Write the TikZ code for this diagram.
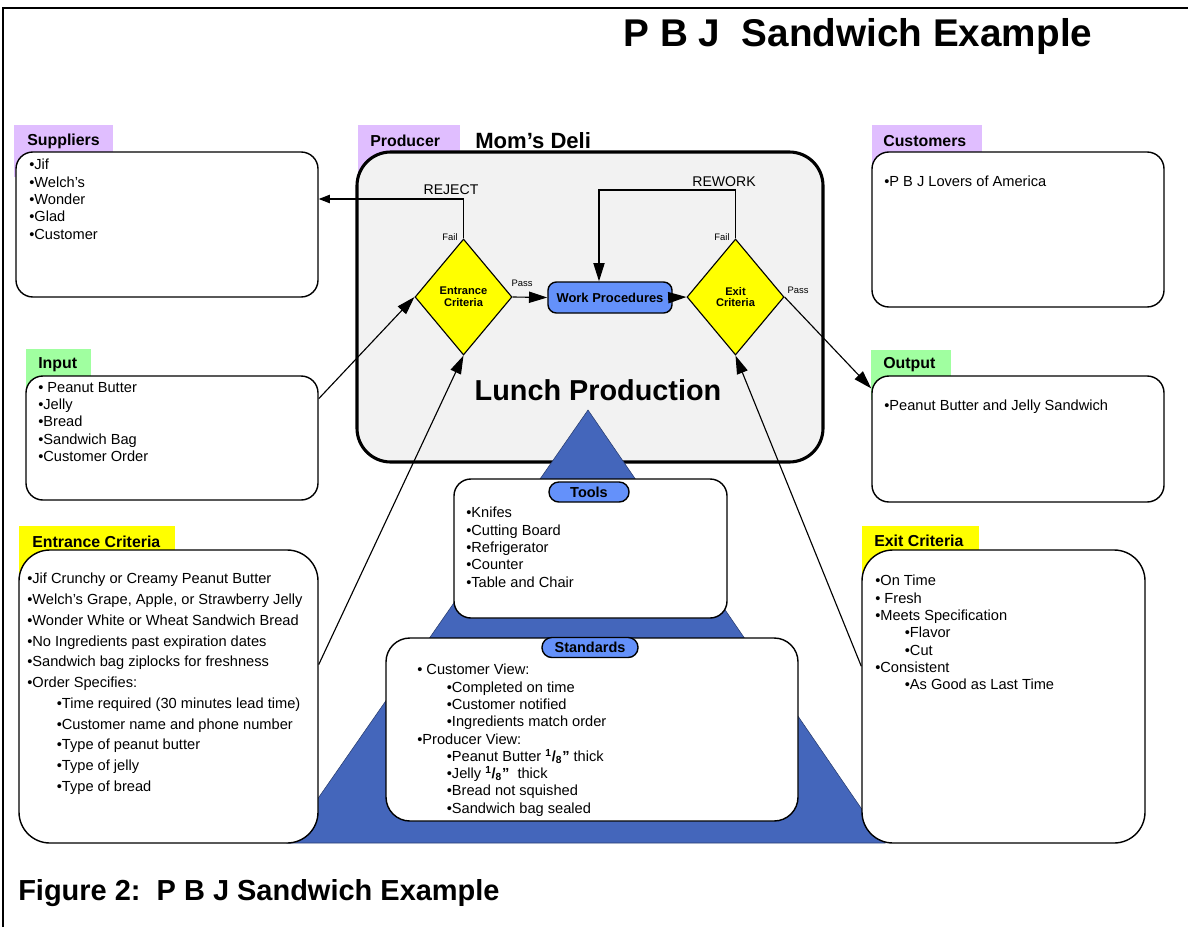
\documentclass[tikz,border=0pt]{standalone}
\usepackage{fontspec}
\setmainfont{Liberation Sans}
\usetikzlibrary{shapes.geometric,arrows.meta,fit}
\definecolor{tagpurple}{RGB}{224,190,255}
\definecolor{taggreen}{RGB}{160,255,160}
\definecolor{gateyellow}{RGB}{255,255,0}
\definecolor{deligray}{RGB}{242,242,242}
\definecolor{procblue}{RGB}{100,145,250}
\definecolor{toolblue}{RGB}{68,102,187}
\begin{document}
\begin{tikzpicture}[x=0.025cm,y=-0.025cm,
  box/.style={draw,fill=white,line width=1pt,inner sep=0pt,rounded corners=12pt},
  tagtext/.style={anchor=west,inner sep=0pt,font=\bfseries\fontsize{11.3}{13}\selectfont},
  list/.style={anchor=north west,align=left,inner sep=0pt,font=\fontsize{10.4}{12.3}\selectfont},
  gate/.style={diamond,draw,fill=gateyellow,line width=0.8pt,inner sep=0pt,
    minimum width=2.425cm,minimum height=2.9cm,align=center,font=\bfseries\fontsize{7.9}{8.4}\selectfont},
  pill/.style={draw,fill=procblue,line width=1pt,rounded corners=7pt,inner sep=0pt,
    font=\bfseries\fontsize{10.3}{12}\selectfont},
  flow/.style={line width=0.8pt,-{Triangle[length=13pt,width=8pt]}},
  small/.style={inner sep=0pt,font=\fontsize{6.7}{8}\selectfont},
  note/.style={inner sep=0pt,font=\fontsize{10}{12}\selectfont}]
\useasboundingbox (0,0) rectangle (1188,927);
\draw[line width=1.4pt] (3,927) -- (3,8) -- (1188,8);
\node[font=\bfseries\fontsize{27.5}{30}\selectfont] (title) at (858,37) {P B J\ \ Sandwich Example};

\fill[tagpurple] (14,125) rectangle (113,177);
\fill[taggreen] (26,349) rectangle (91,397);
\fill[gateyellow] (19,526) rectangle (175,577);
\fill[tagpurple] (358,125) rectangle (460,177);
\fill[tagpurple] (872,125) rectangle (982,165);
\fill[taggreen] (871,350) rectangle (951,400);
\fill[gateyellow] (862,526) rectangle (979,575);

\node[tagtext] (suptag) at (27,141) {Suppliers};
\node[tagtext] (intag) at (38,365) {Input};
\node[tagtext] (enttag) at (32,542) {Entrance Criteria};
\node[tagtext] (prodtag) at (370,141) {Producer};
\node[tagtext] (custtag) at (883,141) {Customers};
\node[tagtext] (outtag) at (883,365) {Output};
\node[tagtext] (extag) at (874,541) {Exit Criteria};
\node[anchor=west,inner sep=0pt,font=\bfseries\fontsize{15.7}{18}\selectfont] (deli) at (475,141) {Mom’s Deli};

\node[box,fit={(16,152) (318,297)}] (supbox) {};
\node[box,fit={(26,376) (318,500)}] (inbox) {};
\node[box,fit={(872,152) (1164,307)}] (custbox) {};
\node[box,fit={(872,376) (1164,502)}] (outbox) {};
\node[box,fill=deligray,line width=2.2pt,rounded corners=24pt,fit={(357,152) (823,462)}] (prod) {};

\filldraw[fill=toolblue,draw=toolblue!60!black,line width=0.4pt] (588,410) -- (287,843) -- (885,843) -- cycle;

\node[box,rounded corners=22pt,fit={(19,550) (318,843)}] (entbox) {};
\node[box,rounded corners=22pt,fit={(862,550) (1145,843)}] (exbox) {};
\node[box,fit={(454,479) (727,618)}] (toolbox) {};
\node[box,rounded corners=17pt,fit={(386,638) (798,821)}] (stdbox) {};
\node[pill,minimum width=2cm,minimum height=0.5cm] (tooltag) at (589,492) {Tools};
\node[pill,minimum width=2.4cm,minimum height=0.5cm] (stdtag) at (590,647.5) {Standards};

\node[list] (suplist) at (29,159) {•Jif\\•Welch’s\\•Wonder\\•Glad\\•Customer};
\node[list] (inlist) at (38,382) {• Peanut Butter\\•Jelly\\•Bread\\•Sandwich Bag\\•Customer Order};
\node[list,font=\fontsize{10.4}{14.75}\selectfont] (entlist) at (27,573) {•Jif Crunchy or Creamy Peanut Butter\\
  •Welch’s Grape, Apple, or Strawberry Jelly\\
  •Wonder White or Wheat Sandwich Bread\\
  •No Ingredients past expiration dates\\
  •Sandwich bag ziplocks for freshness\\
  •Order Specifies:\\
  \hspace*{21pt}•Time required (30 minutes lead time)\\
  \hspace*{21pt}•Customer name and phone number\\
  \hspace*{21pt}•Type of peanut butter\\
  \hspace*{21pt}•Type of jelly\\
  \hspace*{21pt}•Type of bread};
\node[list] (custlist) at (884,176) {•P B J Lovers of America};
\node[list] (outlist) at (884,400) {•Peanut Butter and Jelly Sandwich};
\node[list] (toollist) at (466,507) {•Knifes\\•Cutting Board\\•Refrigerator\\•Counter\\•Table and Chair};
\node[list] (stdlist) at (417,664) {• Customer View:\\
  \hspace*{21pt}•Completed on time\\
  \hspace*{21pt}•Customer notified\\
  \hspace*{21pt}•Ingredients match order\\
  •Producer View:\\
  \hspace*{21pt}•Peanut Butter {\bfseries\textsuperscript{1}/\textsubscript{8}”} thick\\
  \hspace*{21pt}•Jelly {\bfseries\textsuperscript{1}/\textsubscript{8}”}\ \ thick\\
  \hspace*{21pt}•Bread not squished\\
  \hspace*{21pt}•Sandwich bag sealed};
\node[list] (exlist) at (875,575) {•On Time\\• Fresh\\•Meets Specification\\
  \hspace*{21pt}•Flavor\\
  \hspace*{21pt}•Cut\\
  •Consistent\\
  \hspace*{21pt}•As Good as Last Time};

\node[font=\bfseries\fontsize{20.5}{24}\selectfont] (lunch) at (598,390) {Lunch Production};
\node[gate] (entr) at (463.5,297) {Entrance\\Criteria};
\node[gate] (exitd) at (735.5,297) {Exit\\Criteria};
\node[pill,minimum width=3.1cm,minimum height=0.775cm,rounded corners=6pt,
  font=\bfseries\fontsize{9.2}{11}\selectfont] (wp) at (610,297.5) {Work Procedures};

\coordinate (rej) at (463.5,199);
\coordinate (rwk) at (599,190);
\draw[flow,-{Triangle[length=8pt,width=6pt]}] (entr.north) -- (rej) -- (rej -| supbox.east);
\draw[flow] (exitd.north) |- (rwk) -- (rwk |- wp.north);
\draw[flow] (inbox.15) -- (entr.west);
\draw[flow] (entbox.12.6) -- (entr.south);
\draw[flow] (entr.east) -- (wp.west);
\draw[flow] (wp.east) -- (exitd.west);
\draw[flow] (exitd.east) -- (outbox.161.4);
\draw[flow] (exbox.168.2) -- (exitd.south);

\node[note] (rejtxt) at (451,190) {REJECT};
\node[note] (rwktxt) at (724,182) {REWORK};
\node[small] (fail1) at (450,237) {Fail};
\node[small] (fail2) at (722,237) {Fail};
\node[small] (pass1) at (522,283) {Pass};
\node[small] (pass2) at (798,290) {Pass};

\node[anchor=west,inner sep=0pt,font=\bfseries\fontsize{20.6}{24}\selectfont] (caption) at (18,893) {Figure 2:\ \ P B J Sandwich Example};
\end{tikzpicture}
\end{document}
